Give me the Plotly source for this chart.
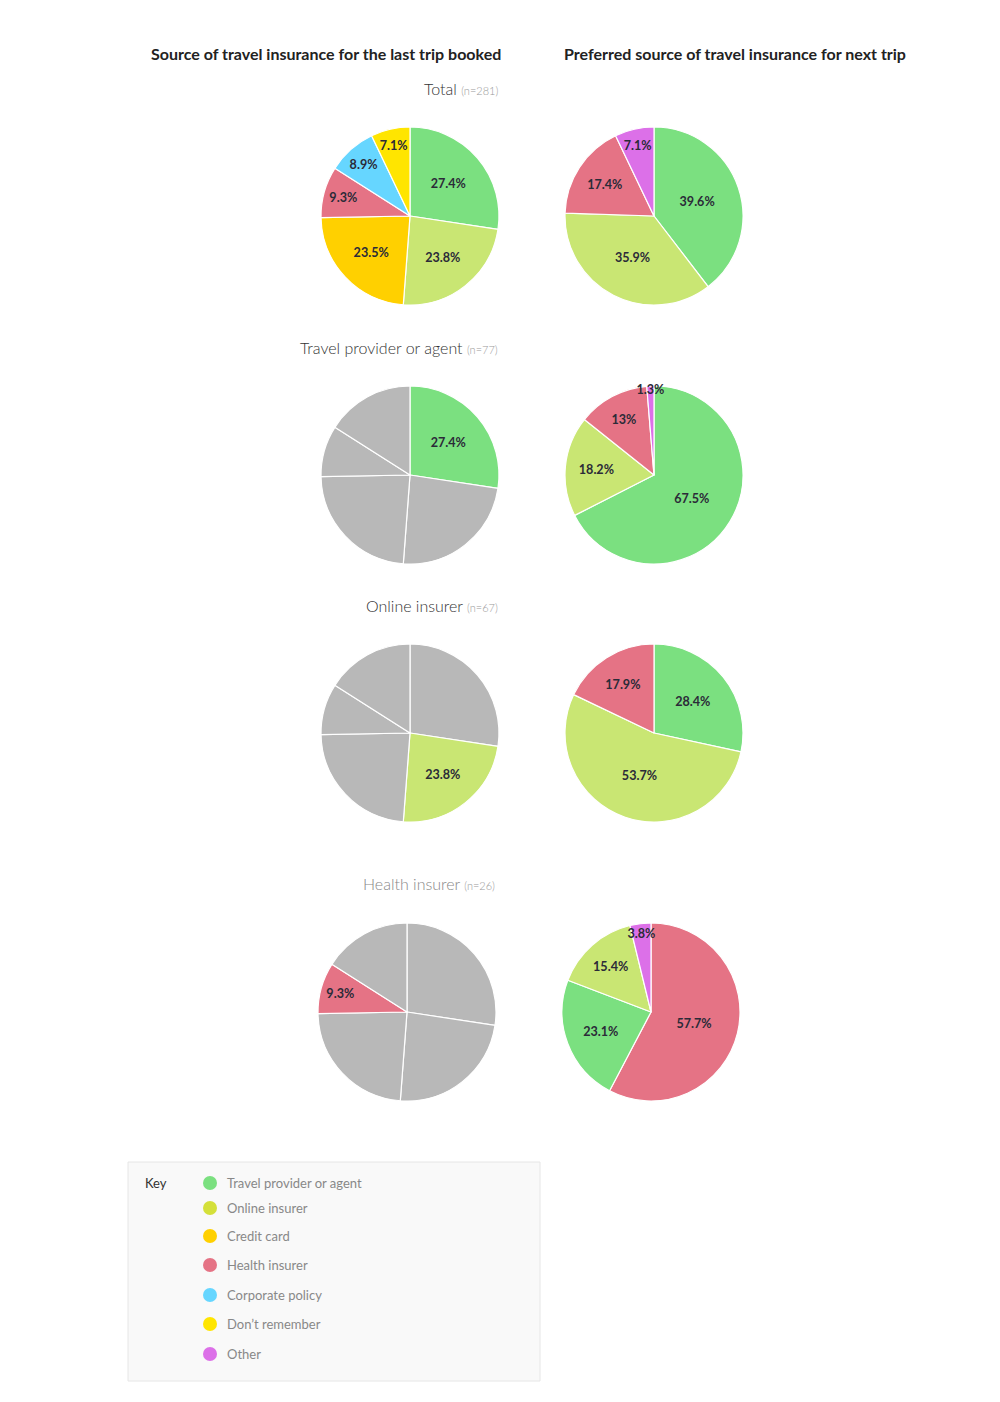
import plotly.graph_objects as go

# ---------------- data ----------------
last_labels = ["Travel provider or agent", "Online insurer", "Credit card",
               "Health insurer", "Corporate policy", "Don't remember"]
last_total = [27.4, 23.8, 23.5, 9.3, 8.9, 7.1]

next_total_labels = ["Travel provider or agent", "Online insurer", "Health insurer", "Other"]
next_total = [39.6, 35.9, 17.4, 7.1]

next_travel_labels = ["Travel provider or agent", "Online insurer", "Health insurer", "Other"]
next_travel = [67.5, 18.2, 13, 1.3]

next_online_labels = ["Travel provider or agent", "Online insurer", "Health insurer"]
next_online = [28.4, 53.7, 17.9]

next_health_labels = ["Health insurer", "Travel provider or agent", "Online insurer", "Other"]
next_health = [57.7, 23.1, 15.4, 3.8]

row_titles = ["Total", "Travel provider or agent", "Online insurer", "Health insurer"]
row_n = ["(n=281)", "(n=77)", "(n=67)", "(n=26)"]
row_highlight = [None, "Travel provider or agent", "Online insurer", "Health insurer"]

key_labels = ["Travel provider or agent", "Online insurer", "Credit card", "Health insurer",
              "Corporate policy", "Don’t remember", "Other"]
key_colors = ["#7be080", "#d4e03a", "#ffd000", "#e57385", "#66d6ff", "#ffe500", "#dc70e8"]

col_titles = ["Source of travel insurance for the last trip booked",
              "Preferred source of travel insurance for next trip"]

# --------------- styles ---------------
colors = {
    "Travel provider or agent": "#7be080",
    "Online insurer": "#c9e673",
    "Credit card": "#ffd000",
    "Health insurer": "#e57385",
    "Corporate policy": "#66d6ff",
    "Don't remember": "#ffe500",
    "Other": "#dc70e8",
}
GREY = "#b8b8b8"
W, H = 1000, 1402
OX, OY = 8, 8  # page body margin
R = 89
FONT = "Lato"
LABEL_FONT = dict(family=FONT, size=13, color="#2b2b38", weight="bold")

left_cx = [410, 410, 410, 407]
right_cx = [654, 654, 654, 651]
cy = [216, 475, 733, 1012]
title_y = [88, 347, 605, 883]
title_x = [500, 500, 500, 497]

right_data = [(next_total_labels, next_total), (next_travel_labels, next_travel),
              (next_online_labels, next_online), (next_health_labels, next_health)]


def px(x):
    return (x - OX) / W


def py(y):
    return 1 - (y - OY) / H


def dom(cx, cyy):
    return dict(x=[px(cx - R), px(cx + R)], y=[py(cyy + R), py(cyy - R)])


def fmt(v):
    return ("%g" % v) + "%"


fig = go.Figure()

for i in range(4):
    hl = row_highlight[i]
    if hl is None:
        labs_l = last_labels
        vals_l = last_total
        lcols = [colors[l] for l in labs_l]
        ltext = [fmt(v) for v in vals_l]
    else:
        # greyed-out pies: the last two categories form one grey segment
        labs_l = last_labels[:4] + ["Corporate policy / Don't remember"]
        vals_l = last_total[:4] + [round(sum(last_total[4:]), 1)]
        lcols = [colors[l] if l == hl else GREY for l in labs_l]
        ltext = [fmt(v) if l == hl else "" for l, v in zip(labs_l, vals_l)]
    fig.add_trace(go.Pie(
        labels=labs_l, values=vals_l, text=ltext, textinfo="text",
        textposition="inside", insidetextorientation="horizontal",
        sort=False, direction="clockwise", rotation=0,
        marker=dict(colors=lcols, line=dict(color="white", width=1.2)),
        textfont=LABEL_FONT, domain=dom(left_cx[i], cy[i]), showlegend=False,
        hoverinfo="label+text",
    ))
    labs, vals = right_data[i]
    fig.add_trace(go.Pie(
        labels=labs, values=vals, text=[fmt(v) for v in vals], textinfo="text",
        textposition="inside", insidetextorientation="horizontal",
        sort=False, direction="clockwise", rotation=0,
        marker=dict(colors=[colors[l] for l in labs], line=dict(color="white", width=1.2)),
        textfont=LABEL_FONT, domain=dom(right_cx[i], cy[i]), showlegend=False,
        hoverinfo="label+text",
    ))

annotations = []
# column titles
for t, x in zip(col_titles, [326, 735]):
    annotations.append(dict(text=t, x=px(x), y=py(54), xref="paper", yref="paper",
                            xanchor="center", yanchor="middle", showarrow=False,
                            font=dict(family=FONT, size=16, color="#222", weight="bold")))
# row titles
for i in range(4):
    tcol = "#888" if i == 3 else "#333"
    annotations.append(dict(
        text=f"{row_titles[i]} <span style='font-size:11px;color:#999'>{row_n[i]}</span>",
        x=px(title_x[i]), y=py(title_y[i]), xref="paper", yref="paper",
        xanchor="right", yanchor="middle", showarrow=False,
        font=dict(family=FONT, size=16, color=tcol, weight=300)))

# legend box
shapes = [dict(type="rect", xref="paper", yref="paper",
               x0=px(128), x1=px(540), y0=py(1381), y1=py(1162),
               fillcolor="#f9f9f9", line=dict(color="#e6e6e6", width=1), layer="below")]
annotations.append(dict(text="Key", x=px(143), y=py(1183), xref="paper", yref="paper",
                        xanchor="left", yanchor="middle", showarrow=False,
                        font=dict(family=FONT, size=13, color="#333")))
key_y = [1183, 1208, 1236, 1265, 1295, 1324, 1354]
for lab, col, ky in zip(key_labels, key_colors, key_y):
    shapes.append(dict(type="circle", xref="paper", yref="paper",
                       x0=px(203), x1=px(217), y0=py(ky + 7), y1=py(ky - 7),
                       fillcolor=col, line=dict(width=0)))
    annotations.append(dict(text=lab, x=px(225), y=py(ky), xref="paper", yref="paper",
                            xanchor="left", yanchor="middle", showarrow=False,
                            font=dict(family=FONT, size=13, color="#888")))

fig.update_layout(
    width=W, height=H, margin=dict(l=0, r=0, t=0, b=0),
    paper_bgcolor="white", plot_bgcolor="white",
    annotations=annotations, shapes=shapes,
    uniformtext=dict(minsize=12, mode="show"),
    font=dict(family=FONT),
)

fig.write_html("out.html")
